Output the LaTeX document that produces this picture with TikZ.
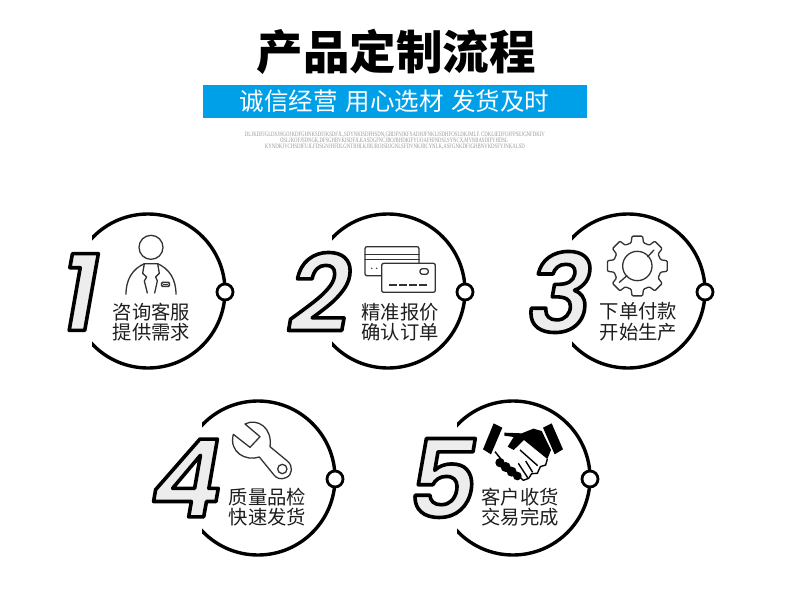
\documentclass[tikz,border=0pt]{standalone}
\usepackage{fontspec}
\usepackage{graphicx}
\newfontfamily\cjk{Noto Sans CJK SC}
\newfontfamily\digfont{Poppins SemiBold}[ItalicFont={Poppins SemiBold Italic}]
\newfontfamily\tinyfont{Liberation Serif}
\definecolor{bandblue}{HTML}{00A0E9}
\definecolor{inkdark}{HTML}{1E1E1E}
\definecolor{iconline}{HTML}{333333}
\newcommand{\outdigit}[1]{\special{pdf:code 2 Tr 3.6 w 1 j 0 0 0 RG 0.93 g}#1\special{pdf:code 0 Tr 1 w 0 j 0 g}}
\tikzset{
  ring/.style={draw=black,line width=3.4pt},
  dot/.style={circle,draw=black,line width=2.8pt,fill=white,minimum size=16pt,inner sep=0pt},
  caption/.style={font=\cjk\fontsize{19.3}{20}\selectfont,text=inkdark,inner sep=0pt,align=center},
  digitnode/.style={font=\digfont\itshape\fontsize{108}{108}\selectfont,inner sep=0pt},
  finetext/.style={text=black!40,inner sep=0pt,font=\tinyfont},
  icon/.style={draw=iconline,line width=1.3pt,line join=round,line cap=round},
}
\begin{document}
\begin{tikzpicture}[x=1pt,y=-1pt]
\useasboundingbox (0,0) rectangle (790,610);
\fill[white] (0,0) rectangle (790,610);
% header
\node[font=\cjk\bfseries\fontsize{46.5}{48}\selectfont,inner sep=0pt] (title) at (396,52) {产品定制流程};
\fill[bandblue] (203,85) rectangle (587,118);
\node[font=\cjk\fontsize{24.5}{26}\selectfont,text=white,inner sep=0pt] (band) at (394.5,101.5) {诚信经营\hspace{.32em}用心选材\hspace{.32em}发货及时};
\node[finetext] (fine1) at (395,134.5) {\resizebox{300pt}{4.4pt}{DLJKDFJGLDSJHGOJKDFGHNKSDFJKSDFJL,SDYNKISDFHSDN,GBDFNJKFSADHJFNKLISDHFOSLDKJMLF. CDKLIEDFOJFPSEJGNFDKIV}};
\node[finetext] (fine2) at (394,140.5) {\resizebox{228pt}{4.4pt}{OSLJKOFJSDNGK,DFSGHBVKISDFJLKASDGFNCJBOJBHDKIFYUOAFHJNDSLSYNCX,MYNBASDIFYHDSL}};
\node[finetext] (fine3) at (395,146.5) {\resizebox{260pt}{4.4pt}{KYNDKJVCHSDIFUJLFDSGNJHFDLGNTRHLKJRUROISDJGNLSFDVNKJBCYNLK,ASFGNKDFJGHBNVKDSFYJNKALSD}};
% rings
\foreach \cx/\cy/\cl/\nm in {148/291/92/a,388/291/332/b,628/291/572/c,258/478/202/d,513/478/457/e}{
  \begin{scope}
    \clip (\cl,\cy-90) rectangle (\cx+90,\cy+90);
    \draw[ring] (\cx,\cy) circle[radius=77];
  \end{scope}
  \node[dot] (dot\nm) at (\cx+77,\cy+1) {};
}
% digits
\node[digitnode] (d1) at (80,292) {\outdigit{1}};
\node[digitnode] (d2) at (320,292) {\outdigit{2}};
\node[digitnode] (d3) at (560,292) {\outdigit{3}};
\node[digitnode] (d4) at (187,478) {\outdigit{4}};
\node[digitnode] (d5) at (443,478) {\outdigit{5}};
% captions
\node[caption] (c1) at (151.5,322) {咨询客服\\[.03em]提供需求};
\node[caption] (c2) at (400,322) {精准报价\\[.03em]确认订单};
\node[caption] (c3) at (638.5,322) {下单付款\\[.03em]开始生产};
\node[caption] (c4) at (267.5,507) {质量品检\\[.03em]快速发货};
\node[caption] (c5) at (520,507) {客户收货\\[.03em]交易完成};
% person
\begin{scope}[shift={(50,205)},scale=1/3]
  \draw[icon] (303,127) circle[radius=36];
  \draw[icon] (228,268) .. controls (228,222) and (248,192) .. (283,176) -- (323,176) .. controls (358,192) and (378,222) .. (378,268);
  \draw[icon] (283,176) -- (278,205) -- (290,216) -- (283,228) -- (292,264);
  \draw[icon] (323,176) -- (328,205) -- (317,216) -- (322,228) -- (314,264);
  \draw[iconline,line width=1.6pt,rounded corners=1pt] (335,232) rectangle (358,244);
  \fill[iconline] (339,236) rectangle (354,241);
\end{scope}
% cards
\begin{scope}[shift={(280,205)},scale=1/3]
  \draw[icon,rounded corners=2pt] (255,125) rectangle (417,212);
  \draw[icon] (255,148) -- (417,148) (255,163) -- (417,163);
  \fill[iconline] (275,190) circle[radius=2.5] (290,190) circle[radius=2.5];
  \draw[icon,fill=white,rounded corners=2pt] (305,175) rectangle (466,262);
  \draw[icon,rounded corners=2.5pt] (420,191) rectangle (445,208);
  \draw[icon,line width=1.5pt,line cap=butt] (328,240) -- (350,240) (358,240) -- (380,240) (388,240) -- (410,240) (418,240) -- (440,240);
\end{scope}
% gear
\begin{scope}[shift={(525,205)},scale=1/3]
  \begin{scope}[shift={(337,183)}]
    \draw[icon,rounded corners=1pt] (-15:72)
      \foreach \a in {0,45,...,315}{ -- (\a-15:72) -- (\a-10:91) -- (\a+10:91) -- (\a+15:72) } -- cycle;
    \draw[icon] (0,0) circle[radius=44];
    \draw[icon] (31,-28) -- (50,-48) (-31,29) -- (-54,49);
  \end{scope}
\end{scope}
% wrench
\begin{scope}[shift={(150,395)},scale=1/3]
  \draw[icon] (250,118) -- (300,157) -- (330,125) -- (285,87) .. controls (322,68) and (368,98) .. (360,155)
    -- (412,198) .. controls (430,212) and (428,240) .. (408,248) .. controls (392,255) and (380,250) .. (372,240)
    -- (328,186) .. controls (288,200) and (236,172) .. (250,118) -- cycle;
  \draw[icon] (397,222) circle[radius=14];
\end{scope}
% handshake
\begin{scope}[shift={(405,395)},scale=1/3]
  \fill[black] (266,85) -- (292,98) -- (258,178) -- (234,163) -- cycle;
  \fill[black] (440,85) -- (474,163) -- (449,178) -- (414,98) -- cycle;
  \fill[black] (298,113) -- (350,115) -- (385,101) -- (410,108) -- (438,165) -- (427,192) -- (357,135) -- (326,165) -- (308,155) -- (326,126) -- (298,122) -- cycle;
  \draw[black,line width=1.5pt] (270,170) -- (290,195);
  \fill[black] (285,203) circle[radius=14] (302,216) circle[radius=15] (320,230) circle[radius=15] (337,243) circle[radius=13];
  \draw[black,line width=1.4pt,line join=round] (427,192) -- (422,210) -- (406,215) -- (397,235) -- (380,236) -- (371,250) -- (355,256) -- (338,240);
  \draw[black,line width=1.4pt] (345,165) -- (398,212) (362,198) -- (383,232) (340,205) -- (368,248);
\end{scope}
\end{tikzpicture}
\end{document}
